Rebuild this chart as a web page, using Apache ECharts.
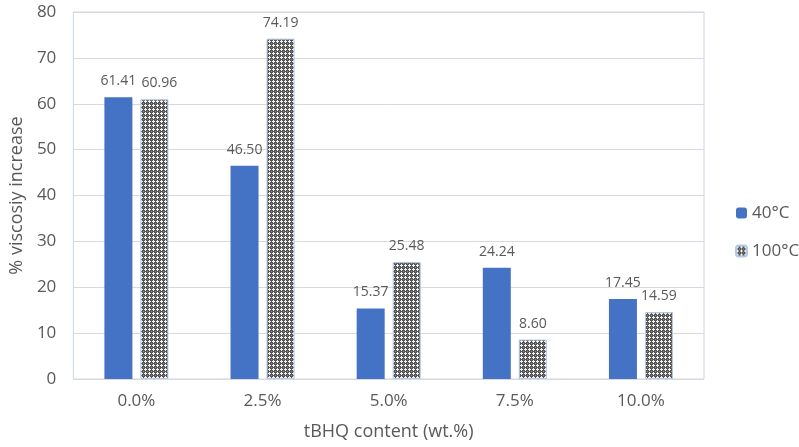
<!DOCTYPE html>
<html>
<head>
<meta charset="utf-8">
<script src="https://cdn.jsdelivr.net/npm/echarts@6/dist/echarts.min.js"></script>
<style>
  html, body { margin: 0; padding: 0; background: #fff; }
  #chart { width: 799px; height: 447px; }
</style>
</head>
<body>
<div id="chart"></div>
<script>
// tBHQ loading levels on the x axis
const categories = ['0.0%', '2.5%', '5.0%', '7.5%', '10.0%'];
// viscosity increase (%) for each test temperature
const values40 = [61.41, 46.50, 15.37, 24.24, 17.45];
const values100 = [60.96, 74.19, 25.48, 8.60, 14.59];
const seriesNames = ['40°C', '100°C'];
const yTicks = { min: 0, max: 80, interval: 10 };

const FONT = '"Open Sans", "Noto Sans", sans-serif';
const TEXT = '#595959';

// Small repeating tile: grey weave with white crosses
function makePattern() {
  const c = document.createElement('canvas');
  c.width = 4; c.height = 4;
  const g = c.getContext('2d');
  g.fillStyle = '#555555';
  g.fillRect(0, 0, 4, 4);
  g.fillStyle = '#f2f2f2';
  g.fillRect(1, 0, 1, 1);
  g.fillRect(0, 1, 3, 1);
  g.fillRect(1, 2, 1, 1);
  g.fillStyle = '#8a8a8a';
  g.fillRect(3, 3, 1, 1);
  return c;
}
const patternFill = { image: makePattern(), repeat: 'repeat' };

const chart = echarts.init(document.getElementById('chart'), null, { renderer: 'canvas' });

const labelStyle = {
  show: true,
  position: 'top',
  distance: 9,
  color: TEXT,
  fontFamily: FONT,
  fontSize: 14,
  formatter: p => p.value.toFixed(2)
};

// the two labels over the first group sit side by side; nudge the right one apart
const data100 = values100.map((v, i) =>
  i === 0 ? { value: v, label: { offset: [5, 0] } } : v
);

chart.setOption({
  animation: false,
  textStyle: { fontFamily: FONT },
  grid: {
    left: 68, right: 95, top: 12, bottom: 68,
    show: true, borderColor: '#c9d6ec', borderWidth: 1
  },
  legend: {
    orient: 'vertical',
    left: 730, top: 198,
    itemWidth: 11, itemHeight: 11,
    itemGap: 18,
    textStyle: { color: TEXT, fontFamily: FONT, fontSize: 17, lineHeight: 20 },
    data: seriesNames
  },
  xAxis: {
    type: 'category',
    data: categories,
    axisLine: { show: false },
    axisTick: { show: false },
    axisLabel: { color: TEXT, fontFamily: FONT, fontSize: 17, margin: 14 },
    name: 'tBHQ content (wt.%)',
    nameLocation: 'middle',
    nameGap: 44,
    nameTextStyle: { color: TEXT, fontFamily: FONT, fontSize: 18 }
  },
  yAxis: {
    type: 'value',
    min: yTicks.min, max: yTicks.max, interval: yTicks.interval,
    axisLine: { show: false },
    axisTick: { show: false },
    axisLabel: { color: TEXT, fontFamily: FONT, fontSize: 17, margin: 17 },
    splitLine: { lineStyle: { color: '#d9d9d9', width: 1 } },
    name: '% viscosiy increase',
    nameLocation: 'middle',
    nameRotate: 90,
    nameGap: 46,
    nameTextStyle: { color: TEXT, fontFamily: FONT, fontSize: 18 }
  },
  series: [
    {
      name: seriesNames[0],
      type: 'bar',
      data: values40,
      barWidth: 28,
      barGap: '28.6%',
      itemStyle: { color: '#4472c4' },
      label: labelStyle
    },
    {
      name: seriesNames[1],
      type: 'bar',
      data: data100,
      barWidth: 28,
      itemStyle: { color: patternFill, borderColor: '#b4c7e7', borderWidth: 1 },
      label: labelStyle
    }
  ]
});
</script>
</body>
</html>
